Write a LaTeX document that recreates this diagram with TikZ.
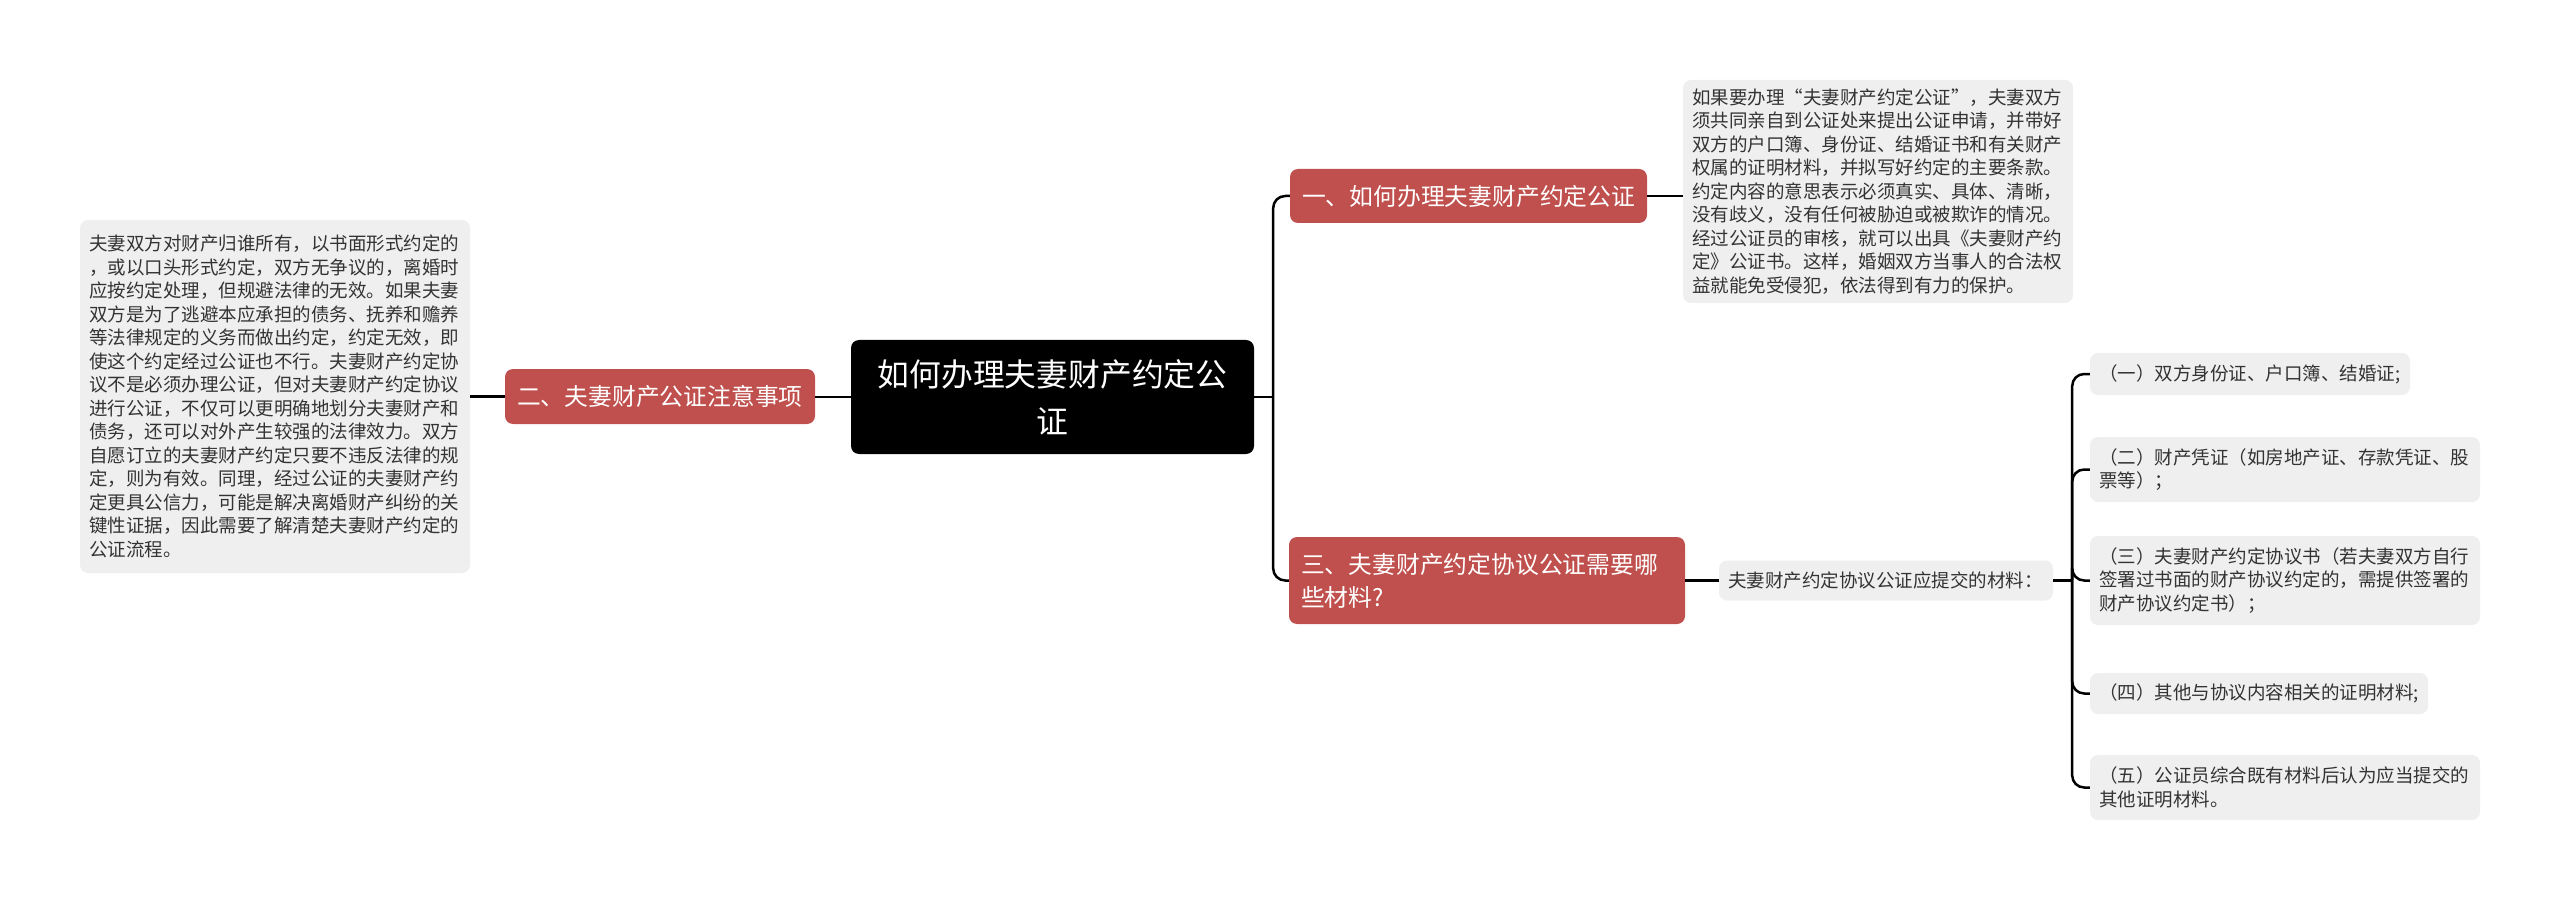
\documentclass[tikz,border=0pt]{standalone}
\usepackage{fontspec}
\setmainfont{Noto Sans CJK SC}
\definecolor{branchred}{RGB}{192,80,77}
\definecolor{leafgray}{RGB}{239,239,239}
\definecolor{leaftext}{RGB}{51,51,51}

\begin{document}
\begin{tikzpicture}[x=1pt,y=-1pt,
  rootbox/.style={fill=black, text=white, rounded corners=8pt, align=center,
    font=\fontsize{31.8}{47}\selectfont, inner xsep=26pt, inner ysep=0pt},
  branch/.style={fill=branchred, text=white, rounded corners=8pt, align=left,
    font=\fontsize{23.8}{33}\selectfont, inner xsep=12pt, inner ysep=0pt},
  leaf/.style={fill=leafgray, text=leaftext, rounded corners=8pt, align=left,
    font=\fontsize{18.5}{23.5}\selectfont, inner xsep=9pt, inner ysep=0pt},
  link/.style={line width=2.5pt}]
  \useasboundingbox (0,0) rectangle (2560,901);

  % Centre
  \node[rootbox, text width=351pt, minimum height=114pt] (root) at (1052.5,397)
    {如何办理夫妻财产约定公\\证};

  % Branches
  \node[branch, text width=333pt, minimum height=54pt] (n1) at (1468.5,196)
    {一、如何办理夫妻财产约定公证};
  \node[branch, text width=286pt, minimum height=55pt] (n2) at (660,396.5)
    {二、夫妻财产公证注意事项};
  \node[branch, text width=372pt, minimum height=87pt] (n3) at (1487,580.5)
    {三、夫妻财产约定协议公证需要哪\\些材料?};

  % Texts
  \node[leaf, text width=372pt, minimum height=223pt] (top) at (1878,191.5)
    {如果要办理“夫妻财产约定公证”，夫妻双方\\
     须共同亲自到公证处来提出公证申请，并带好\\
     双方的户口簿、身份证、结婚证书和有关财产\\
     权属的证明材料，并拟写好约定的主要条款。\\
     约定内容的意思表示必须真实、具体、清晰，\\
     没有歧义，没有任何被胁迫或被欺诈的情况。\\
     经过公证员的审核，就可以出具《夫妻财产约\\
     定》公证书。这样，婚姻双方当事人的合法权\\
     益就能免受侵犯，依法得到有力的保护。};
  \node[leaf, text width=372pt, minimum height=353pt] (left) at (275,396.5)
    {夫妻双方对财产归谁所有，以书面形式约定的\\
     ，或以口头形式约定，双方无争议的，离婚时\\
     应按约定处理，但规避法律的无效。如果夫妻\\
     双方是为了逃避本应承担的债务、抚养和赡养\\
     等法律规定的义务而做出约定，约定无效，即\\
     使这个约定经过公证也不行。夫妻财产约定协\\
     议不是必须办理公证，但对夫妻财产约定协议\\
     进行公证，不仅可以更明确地划分夫妻财产和\\
     债务，还可以对外产生较强的法律效力。双方\\
     自愿订立的夫妻财产约定只要不违反法律的规\\
     定，则为有效。同理，经过公证的夫妻财产约\\
     定更具公信力，可能是解决离婚财产纠纷的关\\
     键性证据，因此需要了解清楚夫妻财产约定的\\
     公证流程。};
  \node[leaf, text width=316pt, minimum height=40pt] (sub) at (1886,580.5)
    {夫妻财产约定协议公证应提交的材料：};

  % Materials
  \node[leaf, text width=302pt, minimum height=42pt] (i1) at (2250,374)
    {（一）双方身份证、户口簿、结婚证;};
  \node[leaf, text width=372pt, minimum height=65pt] (i2) at (2285,469.5)
    {（二）财产凭证（如房地产证、存款凭证、股\\票等）；};
  \node[leaf, text width=372pt, minimum height=89pt] (i3) at (2285,580.5)
    {（三）夫妻财产约定协议书（若夫妻双方自行\\签署过书面的财产协议约定的，需提供签署的\\财产协议约定书）；};
  \node[leaf, text width=320pt, minimum height=41pt] (i4) at (2259,693.5)
    {（四）其他与协议内容相关的证明材料;};
  \node[leaf, text width=372pt, minimum height=65pt] (i5) at (2285,787.5)
    {（五）公证员综合既有材料后认为应当提交的\\其他证明材料。};

  % Connectors
  \coordinate (rj) at ([xshift=19pt]root.east);
  \coordinate (sj) at ([xshift=19pt]sub.east);
  \draw[link] (root.east) -- (rj);
  \draw[link, rounded corners=12pt] (rj) |- (n1.west);
  \draw[link, rounded corners=12pt] (rj) |- (n3.west);
  \draw[link] (root.west) -- (root.west -| n2.east);
  \draw[link] (n2.west) -- (n2.west -| left.east);
  \draw[link] (n1.east) -- (n1.east -| top.west);
  \draw[link] (n3.east) -- (n3.east -| sub.west);
  \draw[link] (sub.east) -- (sj);
  \foreach \item in {i1,i2,i3,i4,i5}
    \draw[link, rounded corners=12pt] (sj) |- (\item.west);
\end{tikzpicture}
\end{document}
